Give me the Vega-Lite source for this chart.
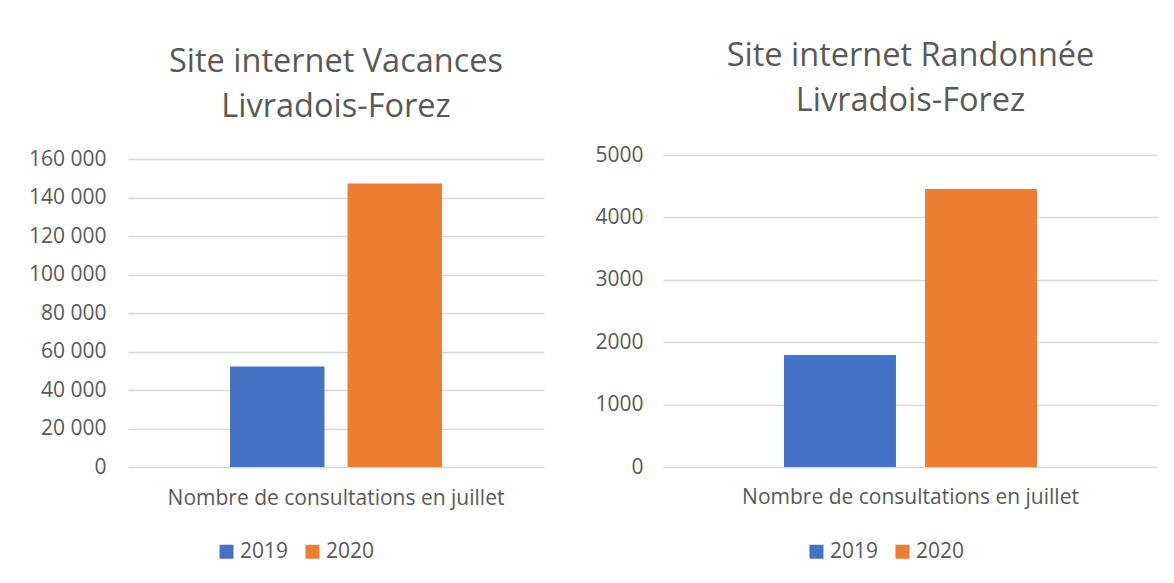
{
  "$schema": "https://vega.github.io/schema/vega-lite/v6.json",
  "background": "white",
  "padding": {"left": 28, "top": 39, "right": 0, "bottom": 12},
  "spacing": 50,
  "datasets": {
    "vacances": [
      {"categorie": "Nombre de consultations en juillet", "annee": "2019", "consultations": 52200},
      {"categorie": "Nombre de consultations en juillet", "annee": "2020", "consultations": 147300}
    ],
    "randonnee": [
      {"categorie": "Nombre de consultations en juillet", "annee": "2019", "consultations": 1795},
      {"categorie": "Nombre de consultations en juillet", "annee": "2020", "consultations": 4455}
    ]
  },
  "hconcat": [
    {
      "width": 416,
      "height": 312,
      "title": {"text": ["Site internet Vacances", "Livradois-Forez"], "offset": 25},
      "data": {"name": "vacances"},
      "mark": {"type": "bar"},
      "encoding": {
        "x": {"field": "categorie", "type": "nominal", "title": null,
              "scale": {"paddingInner": 0, "paddingOuter": 0.481},
              "axis": {"labelAngle": 0, "labelPadding": 20}},
        "xOffset": {"field": "annee", "type": "nominal", "scale": {"paddingInner": 0.196, "paddingOuter": 0}},
        "y": {"field": "consultations", "type": "quantitative", "title": null,
              "scale": {"domain": [0, 162078], "nice": false},
              "axis": {"values": [0, 20000, 40000, 60000, 80000, 100000, 120000, 140000, 160000],
                       "format": ",d", "labelExpr": "replace(datum.label, ',', ' ')", "labelPadding": 22}},
        "color": {"field": "annee", "type": "nominal", "title": null,
                  "scale": {"domain": ["2019", "2020"], "range": ["#4472C4", "#ED7D31"]},
                  "legend": {"orient": "none", "direction": "horizontal", "legendX": 88, "legendY": 386}}
      }
    },
    {
      "width": 495,
      "height": 312,
      "title": {"text": ["Site internet Randonnée", "Livradois-Forez"], "offset": 27},
      "data": {"name": "randonnee"},
      "mark": {"type": "bar"},
      "encoding": {
        "x": {"field": "categorie", "type": "nominal", "title": null,
              "scale": {"paddingInner": 0, "paddingOuter": 0.478},
              "axis": {"labelAngle": 0, "labelPadding": 19}},
        "xOffset": {"field": "annee", "type": "nominal", "scale": {"paddingInner": 0.206, "paddingOuter": 0}},
        "y": {"field": "consultations", "type": "quantitative", "title": null,
              "scale": {"domain": [0, 5000], "nice": false},
              "axis": {"values": [0, 1000, 2000, 3000, 4000, 5000], "format": "d", "labelPadding": 20}},
        "color": {"field": "annee", "type": "nominal", "title": null,
                  "scale": {"domain": ["2019", "2020"], "range": ["#4472C4", "#ED7D31"]},
                  "legend": {"orient": "none", "direction": "horizontal", "legendX": 143, "legendY": 386}}
      }
    }
  ],
  "resolve": {
    "scale": {"x": "independent", "y": "independent", "xOffset": "independent", "color": "independent"},
    "axis": {"x": "independent", "y": "independent"},
    "legend": {"color": "independent"}
  },
  "config": {
    "font": "Open Sans",
    "view": {"stroke": null},
    "axis": {
      "labelColor": "#595959", "labelFontSize": 21, "labelFont": "Open Sans", "labelLimit": 0,
      "domain": false, "ticks": false, "tickSize": 0,
      "gridColor": "#D9D9D9", "gridWidth": 1.3
    },
    "axisX": {"grid": false},
    "title": {"color": "#595959", "fontSize": 32.5, "fontWeight": "normal", "font": "Open Sans", "lineHeight": 45, "anchor": "middle"},
    "legend": {
      "labelColor": "#595959", "labelFontSize": 21, "labelFont": "Open Sans", "labelLimit": 0,
      "symbolType": "square", "symbolSize": 196, "symbolStrokeWidth": 0,
      "symbolOpacity": 1, "labelOffset": 3, "columnPadding": 13
    }
  }
}
